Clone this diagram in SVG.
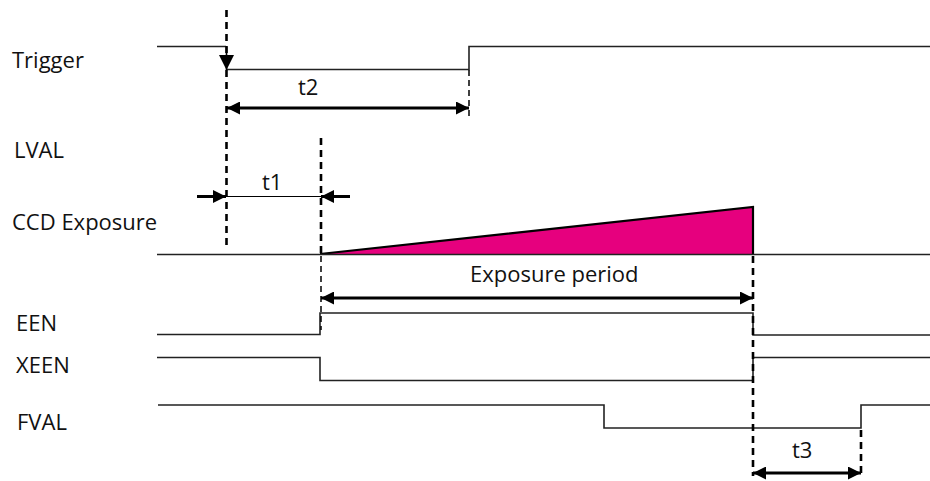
<svg xmlns="http://www.w3.org/2000/svg" width="930" height="481" viewBox="0 0 930 481">
<defs>
<marker id="ah" viewBox="0 0 10 10" refX="10" refY="5" markerWidth="15" markerHeight="13" markerUnits="userSpaceOnUse" orient="auto-start-reverse">
<path d="M0,0 L10,5 L0,10 Z" fill="#000"/>
</marker>
<marker id="ahbig" viewBox="0 0 10 10" refX="10" refY="5" markerWidth="17" markerHeight="15" markerUnits="userSpaceOnUse" orient="auto">
<path d="M0,0 L10,5 L0,10 Z" fill="#000"/>
</marker>
</defs>
<style>
.lbl{font-family:"Open Sans","DejaVu Sans",sans-serif;font-size:22px;fill:#111}
.sig{fill:none;stroke:#222;stroke-width:1.6}
.dash{fill:none;stroke:#000;stroke-width:2.6;stroke-dasharray:7,5}
.dashthin{fill:none;stroke:#000;stroke-width:1.5;stroke-dasharray:6,4}
.dim{fill:none;stroke:#000;stroke-width:3}
.dimthin{fill:none;stroke:#000;stroke-width:1.2}
</style>
<rect width="930" height="481" fill="#fff"/>
<g id="labels">
<text class="lbl" x="12" y="68">Trigger</text>
<text class="lbl" x="14" y="158">LVAL</text>
<text class="lbl" x="12" y="230">CCD Exposure</text>
<text class="lbl" x="16" y="331">EEN</text>
<text class="lbl" x="16" y="373">XEEN</text>
<text class="lbl" x="17" y="430">FVAL</text>
</g>
<g id="trigger">
<path class="sig" d="M157,46.5 H226 M226,69.5 H469 V46.5 H930"/>
</g>
<g id="ccd-exposure">
<path d="M320,254 L753,207 L753,254 Z" fill="#e6007e"/>
<path d="M320,254 L753,207 L753,254" fill="none" stroke="#000" stroke-width="2.2"/>
<path class="sig" d="M157,254.5 H930"/>
</g>
<g id="een">
<path class="sig" d="M157,334.5 H320 V313 H753 V335 H930"/>
</g>
<g id="xeen">
<path class="sig" d="M157,357.5 H320 V380.5 H753 V357.5 H930"/>
</g>
<g id="fval">
<path class="sig" d="M158,405 H604 V428 H861 V405 H930" stroke-width="2"/>
</g>
<g id="connectors">
<path class="dash" d="M226.5,10 V250"/>
<path class="dash" d="M321,138 V254"/>
<path class="dashthin" d="M321,256 V330"/>
<path class="dashthin" d="M469,70 V116"/>
<path class="dash" d="M753,256 V476"/>
<path class="dash" d="M861,430 V476"/>
<path d="M226.5,47 V70" fill="none" stroke="#000" stroke-width="1.6" marker-end="url(#ahbig)"/>
<path class="dim" d="M227,108 H469" marker-start="url(#ah)" marker-end="url(#ah)"/>
<path class="dimthin" d="M226,196.5 H321"/>
<path class="dim" d="M197,196.5 H226" stroke-width="2.4" marker-end="url(#ah)"/>
<path class="dim" d="M350,196.5 H321" stroke-width="2.4" marker-end="url(#ah)"/>
<path class="dim" d="M321,298 H753" marker-start="url(#ah)" marker-end="url(#ah)"/>
<path class="dim" d="M753,473 H861" marker-start="url(#ah)" marker-end="url(#ah)"/>
</g>
<g id="dim-labels">
<text class="lbl" x="298" y="95">t2</text>
<text class="lbl" x="262" y="190">t1</text>
<text class="lbl" x="470" y="282">Exposure period</text>
<text class="lbl" x="792" y="458">t3</text>
</g>
</svg>
